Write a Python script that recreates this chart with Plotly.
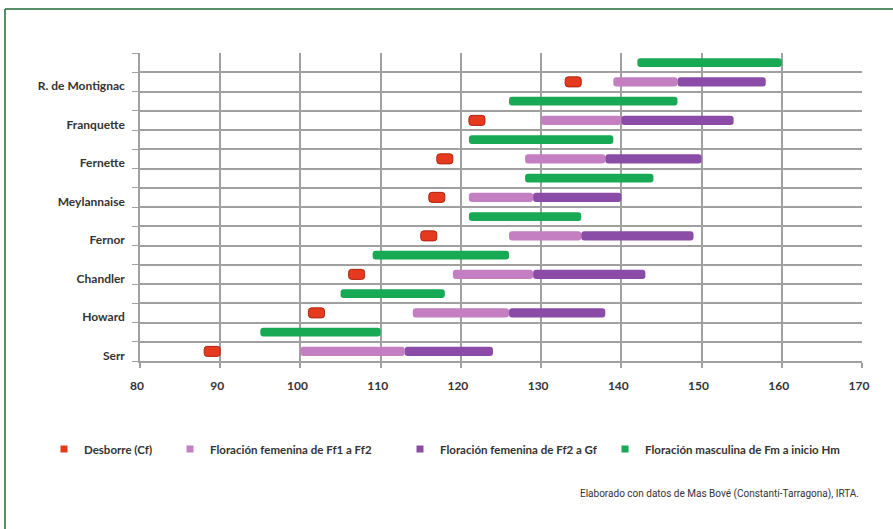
import plotly.graph_objects as go

# ---- data (days of year) ----
varieties = ["Serr", "Howard", "Chandler", "Fernor", "Meylannaise",
             "Fernette", "Franquette", "R. de Montignac"]
desborre_start = [88, 101, 106, 115, 116, 117, 121, 133]
desborre_end = [90, 103, 108, 117, 118, 119, 123, 135]
ff1 = [100, 114, 119, 126, 121, 128, 130, 139]
ff2 = [113, 126, 129, 135, 129, 138, 140, 147]
gf = [124, 138, 143, 149, 140, 150, 154, 158]
fm = [95, 105, 109, 121, 128, 121, 126, 142]
hm_start = [110, 118, 126, 135, 144, 139, 147, 160]
x_ticks = [80, 90, 100, 110, 120, 130, 140, 150, 160, 170]

series_names = ["Desborre (Cf)", "Floración femenina de Ff1 a Ff2",
                "Floración femenina de Ff2 a Gf",
                "Floración masculina de Fm a inicio Hm"]
colors = ["#e63a1f", "#c47fc2", "#8b4ca8", "#18a954"]

# each variety uses two rows: lower (budburst + female), upper (male)
y_low = [2 * i + 0.5 for i in range(len(varieties))]
y_high = [2 * i + 1.5 for i in range(len(varieties))]

def span(a, b):
    return [e - s for s, e in zip(a, b)]

fig = go.Figure()
fig.add_trace(go.Bar(orientation="h", y=y_low, base=desborre_start,
                     x=span(desborre_start, desborre_end), width=0.52,
                     marker=dict(color=colors[0], line=dict(color="#b02410", width=1)),
                     name=series_names[0], showlegend=False))
fig.add_trace(go.Bar(orientation="h", y=y_low, base=ff1, x=span(ff1, ff2), width=0.48,
                     marker=dict(color=colors[1], line=dict(width=0)),
                     name=series_names[1], showlegend=False))
fig.add_trace(go.Bar(orientation="h", y=y_low, base=ff2, x=span(ff2, gf), width=0.48,
                     marker=dict(color=colors[2], line=dict(width=0)),
                     name=series_names[2], showlegend=False))
fig.add_trace(go.Bar(orientation="h", y=y_high, base=fm, x=span(fm, hm_start), width=0.46,
                     marker=dict(color=colors[3], line=dict(width=0)),
                     name=series_names[3], showlegend=False))

# legend entries (one legend per entry so they can be placed like the original)
plot_l, plot_r, plot_t, plot_b = 140, 862, 53, 361
W = plot_r - plot_l
H = plot_b - plot_t
text_x = [84, 210, 440, 645]
legend_keys = ["legend", "legend2", "legend3", "legend4"]
legend_font = dict(family="Lato, Open Sans, sans-serif", size=11.5, color="#333333", weight="bold")
for name, col, key in zip(series_names, colors, legend_keys):
    fig.add_trace(go.Scatter(x=[None], y=[None], mode="markers", name=name,
                             marker=dict(symbol="square", size=7, color=col),
                             showlegend=True, legend=key))

layout_legends = {}
for key, tx in zip(legend_keys, text_x):
    layout_legends[key] = dict(
        x=(tx - 40 - plot_l) / W, xanchor="left",
        y=(plot_b - 449) / H, yanchor="middle",
        orientation="h", bgcolor="rgba(0,0,0,0)", borderwidth=0,
        font=legend_font, itemclick=False, itemdoubleclick=False)

grid_col = "#a0a0a0"
fig.update_layout(
    width=893, height=529,
    margin=dict(l=plot_l, r=893 - plot_r, t=plot_t, b=529 - plot_b),
    paper_bgcolor="white", plot_bgcolor="white",
    barmode="overlay", barcornerradius=3,
    xaxis=dict(range=[80, 170], tickmode="array", tickvals=x_ticks,
               showgrid=True, gridcolor=grid_col, gridwidth=1.5,
               showline=True, linecolor=grid_col, linewidth=1.5,
               ticks="outside", ticklen=5, tickcolor=grid_col, tickwidth=1.5,
               ticklabelshift=-3, ticklabelstandoff=8,
               tickfont=dict(family="Lato, Open Sans, sans-serif", size=12,
                             color="#333333", weight="bold"),
               zeroline=False, mirror=False),
    yaxis=dict(range=[0, 16], tickmode="array", tickvals=y_low, ticktext=varieties,
               showgrid=False, showline=True, linecolor=grid_col, linewidth=1.5,
               ticks="", ticklabelshift=4, ticklabelstandoff=11,
               minor=dict(tickmode="linear", tick0=0, dtick=1, showgrid=True,
                          gridcolor=grid_col, gridwidth=1.5, ticks="outside",
                          ticklen=6, tickcolor=grid_col, tickwidth=1.2),
               tickfont=dict(family="Lato, Open Sans, sans-serif", size=12,
                             color="#333333", weight="bold"),
               zeroline=False),
    **layout_legends,
    annotations=[dict(text="Elaborado con datos de Mas Bové (Constantí-Tarragona), IRTA.",
                      xref="paper", yref="paper",
                      x=(861 - plot_l) / W, y=(plot_b - 494) / H,
                      xanchor="right", yanchor="middle", showarrow=False,
                      font=dict(family="Roboto, sans-serif",
                                size=10, color="#333333"))],
    shapes=[
        dict(type="line", xref="paper", yref="paper",
             x0=(5 - plot_l) / W, x1=(893 - plot_l) / W,
             y0=(plot_b - 9) / H, y1=(plot_b - 9) / H,
             line=dict(color="#1f6a36", width=1.5)),
        dict(type="line", xref="paper", yref="paper",
             x0=(5 - plot_l) / W, x1=(5 - plot_l) / W,
             y0=(plot_b - 9) / H, y1=(plot_b - 529) / H,
             line=dict(color="#1f6a36", width=1.5)),
    ],
)

fig.write_html("out.html")
